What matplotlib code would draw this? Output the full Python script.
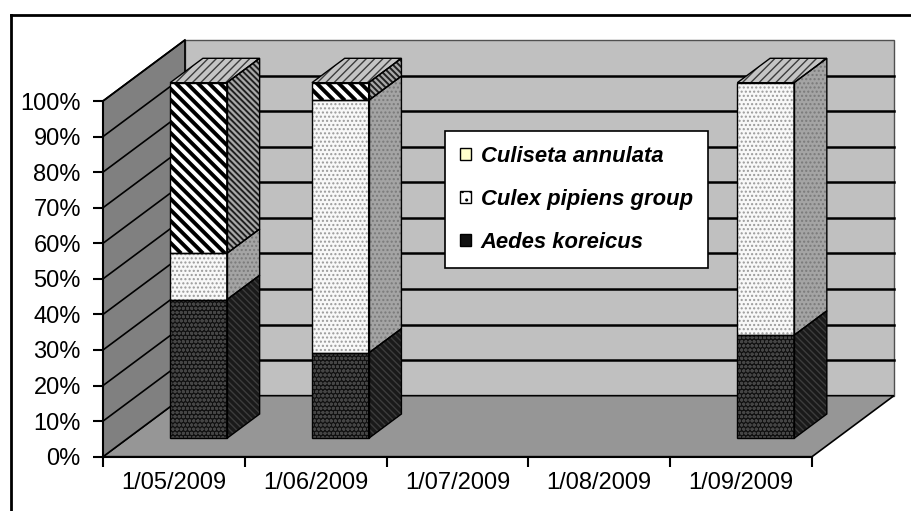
import numpy as np
import matplotlib.pyplot as plt
from matplotlib.patches import Polygon, Patch
from matplotlib.collections import LineCollection
from matplotlib.lines import Line2D

plt.rcParams['font.family'] = ['Liberation Sans', 'DejaVu Sans']
plt.rcParams['hatch.linewidth'] = 1.0

dates = ['1/05/2009', '1/06/2009', '1/07/2009', '1/08/2009', '1/09/2009']
aedes = [39, 24, 0, 0, 29]
culex = [13, 71, 0, 0, 71]
culiseta = [48, 5, 0, 0, 0]
species = ['Culiseta annulata', 'Culex pipiens group', 'Aedes koreicus']
yticks = list(range(0, 101, 10))

# oblique projection: full depth of the box in data units
DEPTH_X = 0.578
DEPTH_Y = 17.15
BAR_W = 0.4
BAR_D0, BAR_D1 = 0.3, 0.7


def proj(x, y, d):
    return (x + d * DEPTH_X, y + d * DEPTH_Y)


def face(ax, pts, fc, hatch=None, hc='black', ec='black', lw=1.0, z=2):
    verts = [proj(*p) for p in pts]
    base = Polygon(verts, closed=True, fc=fc, ec='none', lw=0, zorder=z, clip_on=False)
    ax.add_patch(base)
    if hatch:
        ax.add_patch(Polygon(verts, closed=True, fc='none', ec=hc, lw=0, hatch=hatch,
                             zorder=z + 0.01, clip_on=False))
    ax.add_patch(Polygon(verts, closed=True, fc='none', ec=ec, lw=lw, zorder=z + 0.03, clip_on=False))
    return base, verts


def stripes(ax, patch, verts, step, lw, color, z):
    # diagonal stripes (upper-left to lower-right) clipped to a face
    disp = ax.transData.transform(verts)
    xmin, ymin = disp.min(0)
    xmax, ymax = disp.max(0)
    h = ymax - ymin
    inv = ax.transData.inverted()
    segs = []
    for c in np.arange(xmin - h - step, xmax + step, step):
        segs.append(inv.transform([(c, ymax), (c + h, ymin)]))
    lc = LineCollection(segs, colors=color, linewidths=lw, zorder=z + 0.02)
    lc.set_clip_path(patch)
    ax.add_collection(lc)
    lc.set_clip_box(None)


fig = plt.figure(figsize=(9.11, 5.11), dpi=100)
ax = fig.add_axes([103 / 911, 54.3 / 511, 709 / 911, 355.7 / 511])
ax.set_xlim(0, len(dates))
ax.set_ylim(0, 100)
ax.patch.set_visible(False)
for s in ['top', 'right']:
    ax.spines[s].set_visible(False)
for s in ['left', 'bottom']:
    ax.spines[s].set_linewidth(1.5)
    ax.spines[s].set_zorder(5)

n = len(dates)

# walls and floor
face(ax, [(0, 0, 1), (n, 0, 1), (n, 100, 1), (0, 100, 1)], '#c0c0c0', ec='#505050', lw=1, z=1)
face(ax, [(0, 0, 0), (n, 0, 0), (n, 0, 1), (0, 0, 1)], '#969696', ec='black', lw=1.2, z=1.1)
face(ax, [(0, 0, 0), (0, 100, 0), (0, 100, 1), (0, 0, 1)], '#808080', ec='black', lw=1.2, z=1.2)

# gridlines on back wall and side wall
for v in yticks[1:-1]:
    x0, y0 = proj(0, v, 1)
    x1, y1 = proj(n, v, 1)
    ax.plot([x0, x1], [y0, y1], color='black', lw=1.8, zorder=1.5, clip_on=False)
for v in yticks[1:]:
    a = proj(0, v, 0)
    b = proj(0, v, 1)
    ax.plot([a[0], b[0]], [a[1], b[1]], color='black', lw=1.2, zorder=1.5, clip_on=False)

# segment styles: front fill, front hatch, hatch colour, side fill, side hatch, side hatch colour
styles = {
    'Aedes koreicus': dict(fc='#111111', hatch='oooo', hc='#454545',
                           sfc='#1a1a1a', shatch='\\\\\\\\\\', shc='#3c3c3c'),
    'Culex pipiens group': dict(fc='#f8f8f8', hatch='....', hc='#9a9a9a',
                                sfc='#a4a4a4', shatch='....', shc='#7a7a7a'),
}

for i in range(n):
    x0 = i + 0.5 - BAR_W / 2
    x1 = i + 0.5 + BAR_W / 2
    bottom = 0
    segs = [('Aedes koreicus', aedes[i]), ('Culex pipiens group', culex[i]),
            ('Culiseta annulata', culiseta[i])]
    if sum(v for _, v in segs) == 0:
        continue
    for name, val in segs:
        if val <= 0:
            continue
        top = bottom + val
        front = [(x0, bottom, BAR_D0), (x1, bottom, BAR_D0), (x1, top, BAR_D0), (x0, top, BAR_D0)]
        side = [(x1, bottom, BAR_D0), (x1, bottom, BAR_D1), (x1, top, BAR_D1), (x1, top, BAR_D0)]
        if name == 'Culiseta annulata':
            p, v = face(ax, front, 'white', z=3)
            stripes(ax, p, v, 11, 2.8, 'black', 3)
            p, v = face(ax, side, '#a8a8a8', z=3)
            stripes(ax, p, v, 6, 1.4, '#202020', 3)
        else:
            st = styles[name]
            face(ax, front, st['fc'], st['hatch'], st['hc'], z=3)
            face(ax, side, st['sfc'], st['shatch'], st['shc'], z=3)
        bottom = top
    topface = [(x0, bottom, BAR_D0), (x1, bottom, BAR_D0), (x1, bottom, BAR_D1), (x0, bottom, BAR_D1)]
    face(ax, topface, '#c4c4c4', '////', '#3c3c3c', z=3)

# axes ticks and labels
ax.set_yticks(yticks)
ax.set_yticklabels([f'{v}%' for v in yticks])
ax.set_xticks(range(n + 1))
ax.set_xticklabels([])
ax.set_xticks([i + 0.5 for i in range(n)], minor=True)
ax.set_xticklabels(dates, minor=True)
ax.tick_params(axis='y', length=7, width=1.5, pad=9, labelsize=17)
ax.tick_params(axis='x', which='major', length=7, width=1.5)
ax.tick_params(axis='x', which='minor', length=0, pad=11, labelsize=17)

# legend
handles = [Patch(fc='#ffffcc', ec='black', lw=1),
           Patch(fc='white', ec='black', lw=1, hatch='..'),
           Patch(fc='#111111', ec='black', lw=1)]
leg = fig.legend(handles, species, loc='upper left', bbox_to_anchor=(445 / 911, 1 - 131 / 511),
                 frameon=True, fancybox=False, framealpha=1, edgecolor='black',
                 handlelength=0.5, handleheight=0.5, handletextpad=0.45, labelspacing=1.0,
                 borderpad=0.68, borderaxespad=0,
                 prop=dict(family='Liberation Sans', style='italic', weight='bold', size=15.8))
leg.get_frame().set_linewidth(1.2)
leg.set_zorder(10)

# outer border
fig.add_artist(Line2D([11 / 911, 1], [1 - 15 / 511, 1 - 15 / 511], color='black', lw=2,
                      transform=fig.transFigure))
fig.add_artist(Line2D([11 / 911, 11 / 911], [0, 1 - 15 / 511], color='black', lw=2,
                      transform=fig.transFigure))

fig.savefig('out.png', dpi=100)
